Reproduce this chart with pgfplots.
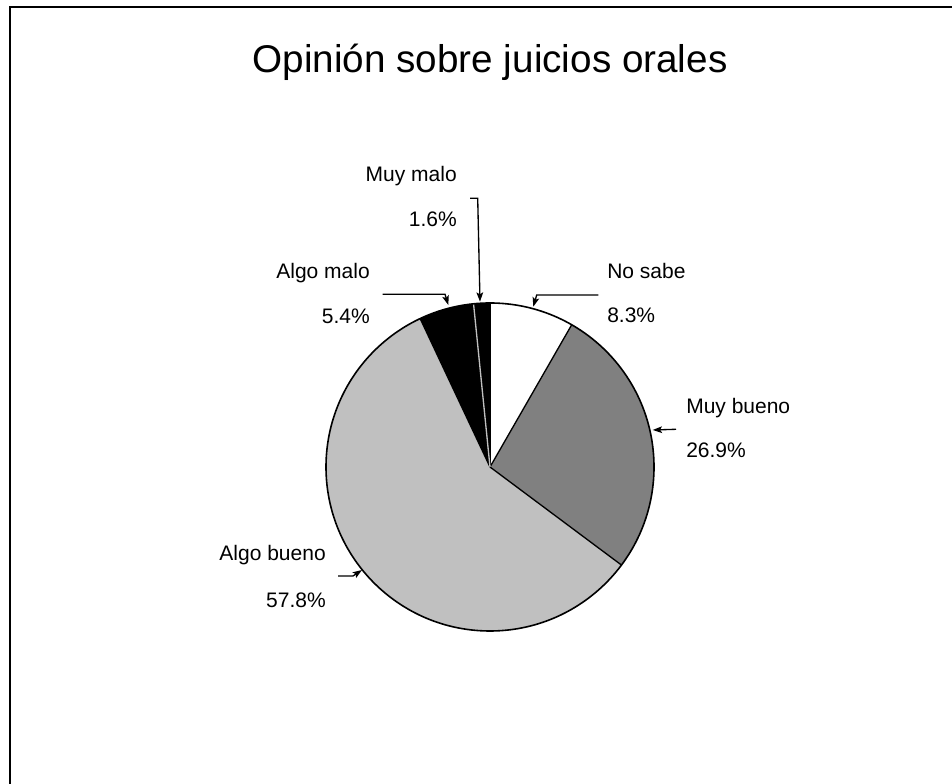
\documentclass[border=0pt]{standalone}
\usepackage{fontspec}
\setmainfont{Liberation Sans}
\usepackage{pgfplots}
\pgfplotsset{compat=1.18}
\usetikzlibrary{arrows.meta}
\definecolor{mbueno}{RGB}{128,128,128}
\definecolor{abueno}{RGB}{192,192,192}
\tikzset{
  lab/.style={inner sep=0pt, font=\fontsize{15.75}{19}\selectfont},
  lead/.style={line width=1pt, -{Stealth[length=7pt,width=5pt,inset=1.5pt]}}}
\begin{document}
\begin{tikzpicture}
\begin{axis}[
  x=0.75pt, y=0.75pt, xmin=0, xmax=952, ymin=0, ymax=784,
  hide axis, clip=false, at={(0,0)}, anchor=south west,
  scale only axis]
\addplot[draw=none] coordinates {(0,0) (952,784)};
\coordinate (SW) at (axis cs:0,0);
\coordinate (NE) at (axis cs:952,784);
% pie: percentages, clockwise from 12 o'clock
\pgfplotsextra{
  \foreach \v/\col/\edgecol [remember=\e as \s (initially 90), evaluate=\v as \e using \s-3.6*\v] in
     {8.3/white/black, 26.9/mbueno/black, 57.8/abueno/black, 5.4/black/black, 1.6/black/gray!50}{
    \fill[\col] (axis cs:490,317) -- ++(\s:123pt) arc[start angle=\s, end angle=\e, radius=123pt] -- cycle;
    \draw[\edgecol, line width=1pt] (axis cs:490,317) -- ++(\s:123pt);
  }
  \draw[black, line width=1.2pt] (axis cs:490,317) circle[radius=123pt];
  % frame (top and left)
  \draw[line width=1.5pt] (axis cs:10,0) -- (axis cs:10,776.5) -- (axis cs:952,776.5);
  % title
  \node[anchor=base, inner sep=0pt, font=\fontsize{29}{34}\selectfont] at (axis cs:490,711) {Opinión sobre juicios orales};
  % labels
  \node[lab, anchor=base west] at (axis cs:607,505) {No sabe};
  \node[lab, anchor=base west] at (axis cs:607,461) {8.3\%};
  \node[lab, anchor=base west] at (axis cs:686,370.7) {Muy bueno};
  \node[lab, anchor=base west] at (axis cs:686,326.7) {26.9\%};
  \node[lab, anchor=base east] at (axis cs:326,223.3) {Algo bueno};
  \node[lab, anchor=base east] at (axis cs:326,176.7) {57.8\%};
  \node[lab, anchor=base east] at (axis cs:370,505) {Algo malo};
  \node[lab, anchor=base east] at (axis cs:370,460.7) {5.4\%};
  \node[lab, anchor=base east] at (axis cs:457,602.3) {Muy malo};
  \node[lab, anchor=base east] at (axis cs:457,557.3) {1.6\%};
  % leader lines
  \draw[lead] (axis cs:470,585.7) -- (axis cs:477.7,585.7) -- (axis cs:480,482.3);
  \draw[lead] (axis cs:598.3,489) -- (axis cs:536.7,489) -- (axis cs:533.3,477.3);
  \draw[lead] (axis cs:382.7,489.7) -- (axis cs:445,489.7) -- (axis cs:448.3,479);
  \draw[lead] (axis cs:676,354.7) -- (axis cs:652.7,354);
  \draw[lead] (axis cs:338,208) -- (axis cs:353,208) -- (axis cs:362,214);
}
\end{axis}
\pgfresetboundingbox
\useasboundingbox (SW) rectangle (NE);
\end{tikzpicture}
\end{document}
